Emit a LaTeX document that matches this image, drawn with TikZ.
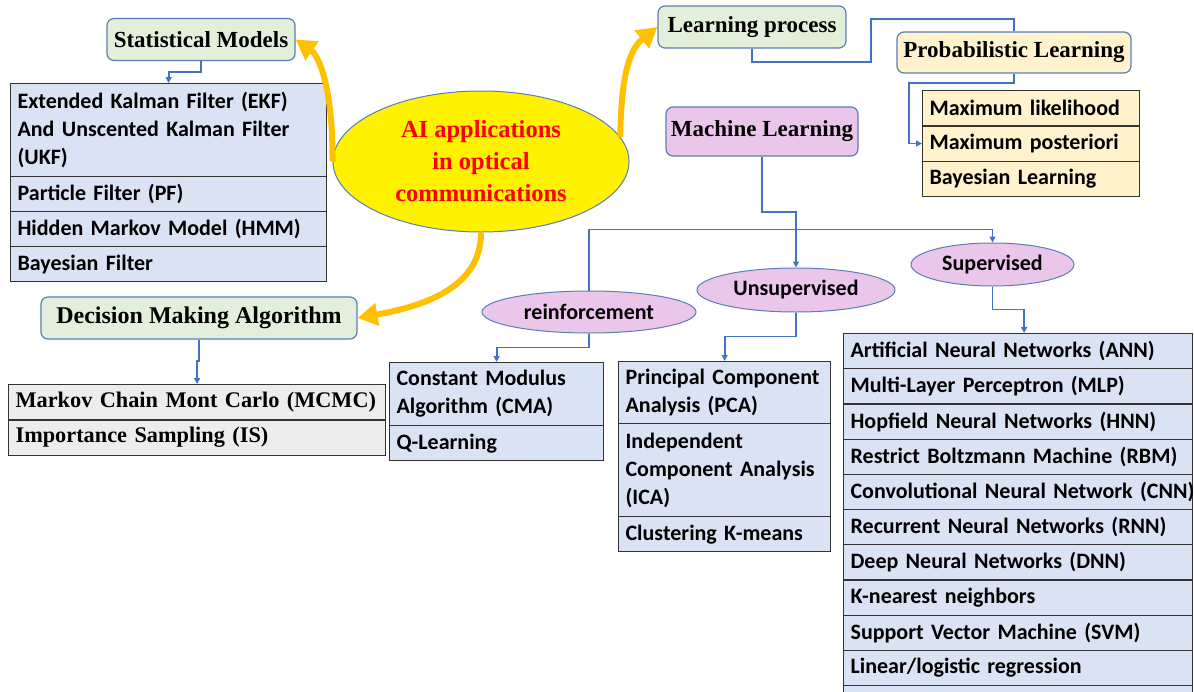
\documentclass[tikz,border=0pt]{standalone}
\usepackage{fontspec}
\setmainfont{Liberation Serif}
\newfontfamily\calibfont{Carlito}
\usepackage{tikz}
\usetikzlibrary{shapes.geometric,arrows.meta,calc}
\usepackage{xcolor}
\definecolor{pale_green}{HTML}{E2EFDA}
\definecolor{pale_yellow}{HTML}{FFF2CC}
\definecolor{pale_blue}{HTML}{DAE3F3}
\definecolor{pale_gray}{HTML}{EDEDED}
\definecolor{lilac}{HTML}{EAC6EA}
\definecolor{link_blue}{HTML}{4472C4}
\definecolor{edge_blue}{HTML}{5B7DB8}
\definecolor{gold}{HTML}{FFC000}
\definecolor{frame_gray}{HTML}{333333}

\begin{document}
\begin{tikzpicture}[x=1pt, y=-1pt,
	titlebox/.style={draw=edge_blue, line width=1.2pt, rounded corners=7pt, inner sep=0pt, font=\fontsize{23}{28}\selectfont\bfseries},
	listrow/.style={draw=frame_gray, line width=1.2pt, fill=pale_blue, anchor=north west, inner xsep=7pt, inner ysep=0pt, align=left, minimum height=35.2pt, font=\calibfont\fontsize{22}{28}\selectfont\bfseries},
	bubble/.style={ellipse, draw=edge_blue, line width=1pt, fill=lilac, inner sep=0pt, font=\calibfont\fontsize{22}{26}\selectfont\bfseries},
	link/.style={draw=link_blue, line width=1.8pt, -{Triangle[length=6pt,width=6pt]}},
	wire/.style={draw=link_blue, line width=1.8pt},
	swing/.style={draw=gold, line width=6pt, -{Triangle[length=20pt,width=22pt]}}]
	\useasboundingbox (0,0) rectangle (1194,691);

	% headings
	\node[titlebox, fill=pale_green, minimum width=188pt, minimum height=42pt] (stat) at (201,39.5) {Statistical Models};
	\node[titlebox, fill=pale_green, minimum width=188pt, minimum height=42pt] (learn) at (752,27) {Learning process};
	\node[titlebox, fill=pale_yellow, minimum width=234pt, minimum height=41pt] (prob) at (1014,52.5) {Probabilistic Learning};
	\node[titlebox, fill=lilac, minimum width=192pt, minimum height=49pt] (ml) at (762,131.5) {Machine Learning};
	\node[titlebox, fill=pale_green, minimum width=316pt, minimum height=42pt, font=\fontsize{24}{28}\selectfont\bfseries] (dma) at (199,318) {Decision Making Algorithm};

	\node[ellipse, draw=edge_blue, line width=1pt, fill=yellow, minimum width=296pt, minimum height=141pt, inner sep=0pt, align=center, text=red, font=\fontsize{24.5}{32}\selectfont\bfseries] (ai) at (481,161.5) {AI applications\\in optical\\communications};

	\node[bubble, minimum width=214pt, minimum height=42pt] (reinf) at (589,312) {reinforcement};
	\node[bubble, minimum width=198pt, minimum height=44pt] (unsup) at (796,290) {Unsupervised};
	\node[bubble, minimum width=163pt, minimum height=43pt] (sup) at (992.5,264.5) {Supervised};

	% statistical models
	\node[listrow, text width=302pt, minimum height=93pt] (ekf) at (10,83) {Extended Kalman Filter (EKF)\\And Unscented Kalman Filter\\(UKF)};
	\node[listrow, text width=302pt] (pf) at (10,176) {Particle Filter (PF)};
	\node[listrow, text width=302pt] (hmm) at (10,211) {Hidden Markov Model (HMM)};
	\node[listrow, text width=302pt] (bf) at (10,246) {Bayesian Filter};

	% probabilistic learning
	\node[listrow, fill=pale_yellow, text width=203pt] (mle) at (922,90) {Maximum likelihood};
	\node[listrow, fill=pale_yellow, text width=203pt] (map) at (922,125.3) {Maximum posteriori};
	\node[listrow, fill=pale_yellow, text width=203pt] (bl) at (922,160.6) {Bayesian Learning};

	% decision making
	\node[listrow, fill=pale_gray, text width=363pt, font=\fontsize{22.3}{28}\selectfont\bfseries] (mcmc) at (8,384) {\mbox{Markov Chain Mont Carlo (MCMC)}};
	\node[listrow, fill=pale_gray, text width=363pt, font=\fontsize{22.3}{28}\selectfont\bfseries] (imps) at (8,419.5) {Importance Sampling (IS)};

	% reinforcement
	\node[listrow, text width=200pt, minimum height=63pt] (cma) at (389,362) {Constant Modulus\\Algorithm (CMA)};
	\node[listrow, text width=200pt] (ql) at (389,425) {Q-Learning};

	% unsupervised
	\node[listrow, text width=198pt, minimum height=62pt] (pca) at (618,361) {Principal Component\\Analysis (PCA)};
	\node[listrow, text width=198pt, minimum height=93pt] (ica) at (618,423) {Independent\\Component Analysis\\(ICA)};
	\node[listrow, text width=198pt] (km) at (618,516) {Clustering K-means};

	% supervised
	\node[listrow, text width=335pt] (ann) at (843,333) {Artificial Neural Networks (ANN)};
	\node[listrow, text width=335pt] (mlp) at (843,368.2) {Multi-Layer Perceptron (MLP)};
	\node[listrow, text width=335pt] (hnn) at (843,403.4) {Hopfield Neural Networks (HNN)};
	\node[listrow, text width=335pt] (rbm) at (843,438.6) {\mbox{Restrict Boltzmann Machine (RBM)}};
	\node[listrow, text width=335pt] (cnn) at (843,473.8) {\mbox{Convolutional Neural Network (CNN)}};
	\node[listrow, text width=335pt] (rnn) at (843,509) {Recurrent Neural Networks (RNN)};
	\node[listrow, text width=335pt] (dnn) at (843,544.2) {Deep Neural Networks (DNN)};
	\node[listrow, text width=335pt] (knn) at (843,579.4) {K-nearest neighbors};
	\node[listrow, text width=335pt] (svm) at (843,614.6) {Support Vector Machine (SVM)};
	\node[listrow, text width=335pt] (lin) at (843,649.8) {Linear/logistic regression};
	\node[listrow, text width=335pt] (more) at (843,685) {};

	% blue connectors
	\draw[link] (stat.south) -- ++(0,11) -| (ekf.north);
	\draw[link] (dma.south) -- ++(0,21) -| (mcmc.north);
	\draw[wire] (learn.south) -- ++(0,13) -- ++(119,0) -- ++(0,-43) -| (prob.north);
	\draw[link] (prob.south) -- ++(0,9) -| ($(map.west)+(-13,0)$) -- (map.west);
	\draw[link] (ml.south) -- ++(0,55) -| (unsup.north);
	\draw[link] (reinf.north) -- ++(0,-61) -| (sup.north);
	\draw[link] (reinf.south) -- ++(0,14) -| (cma.north);
	\draw[link] (unsup.south) -- ++(0,24) -| (pca.north);
	\draw[link] (sup.south) -- ++(0,23) -| ([xshift=6pt]ann.north);

	% orange arrows
	\draw[swing] (ai.west) .. controls (333,85) and (318,55) .. (stat.east);
	\draw[swing] (ai.10) .. controls (621,60) and (635,45) .. (learn.west);
	\draw[swing] (ai.south) .. controls (481,285) and (430,305) .. (dma.east);
\end{tikzpicture}
\end{document}
